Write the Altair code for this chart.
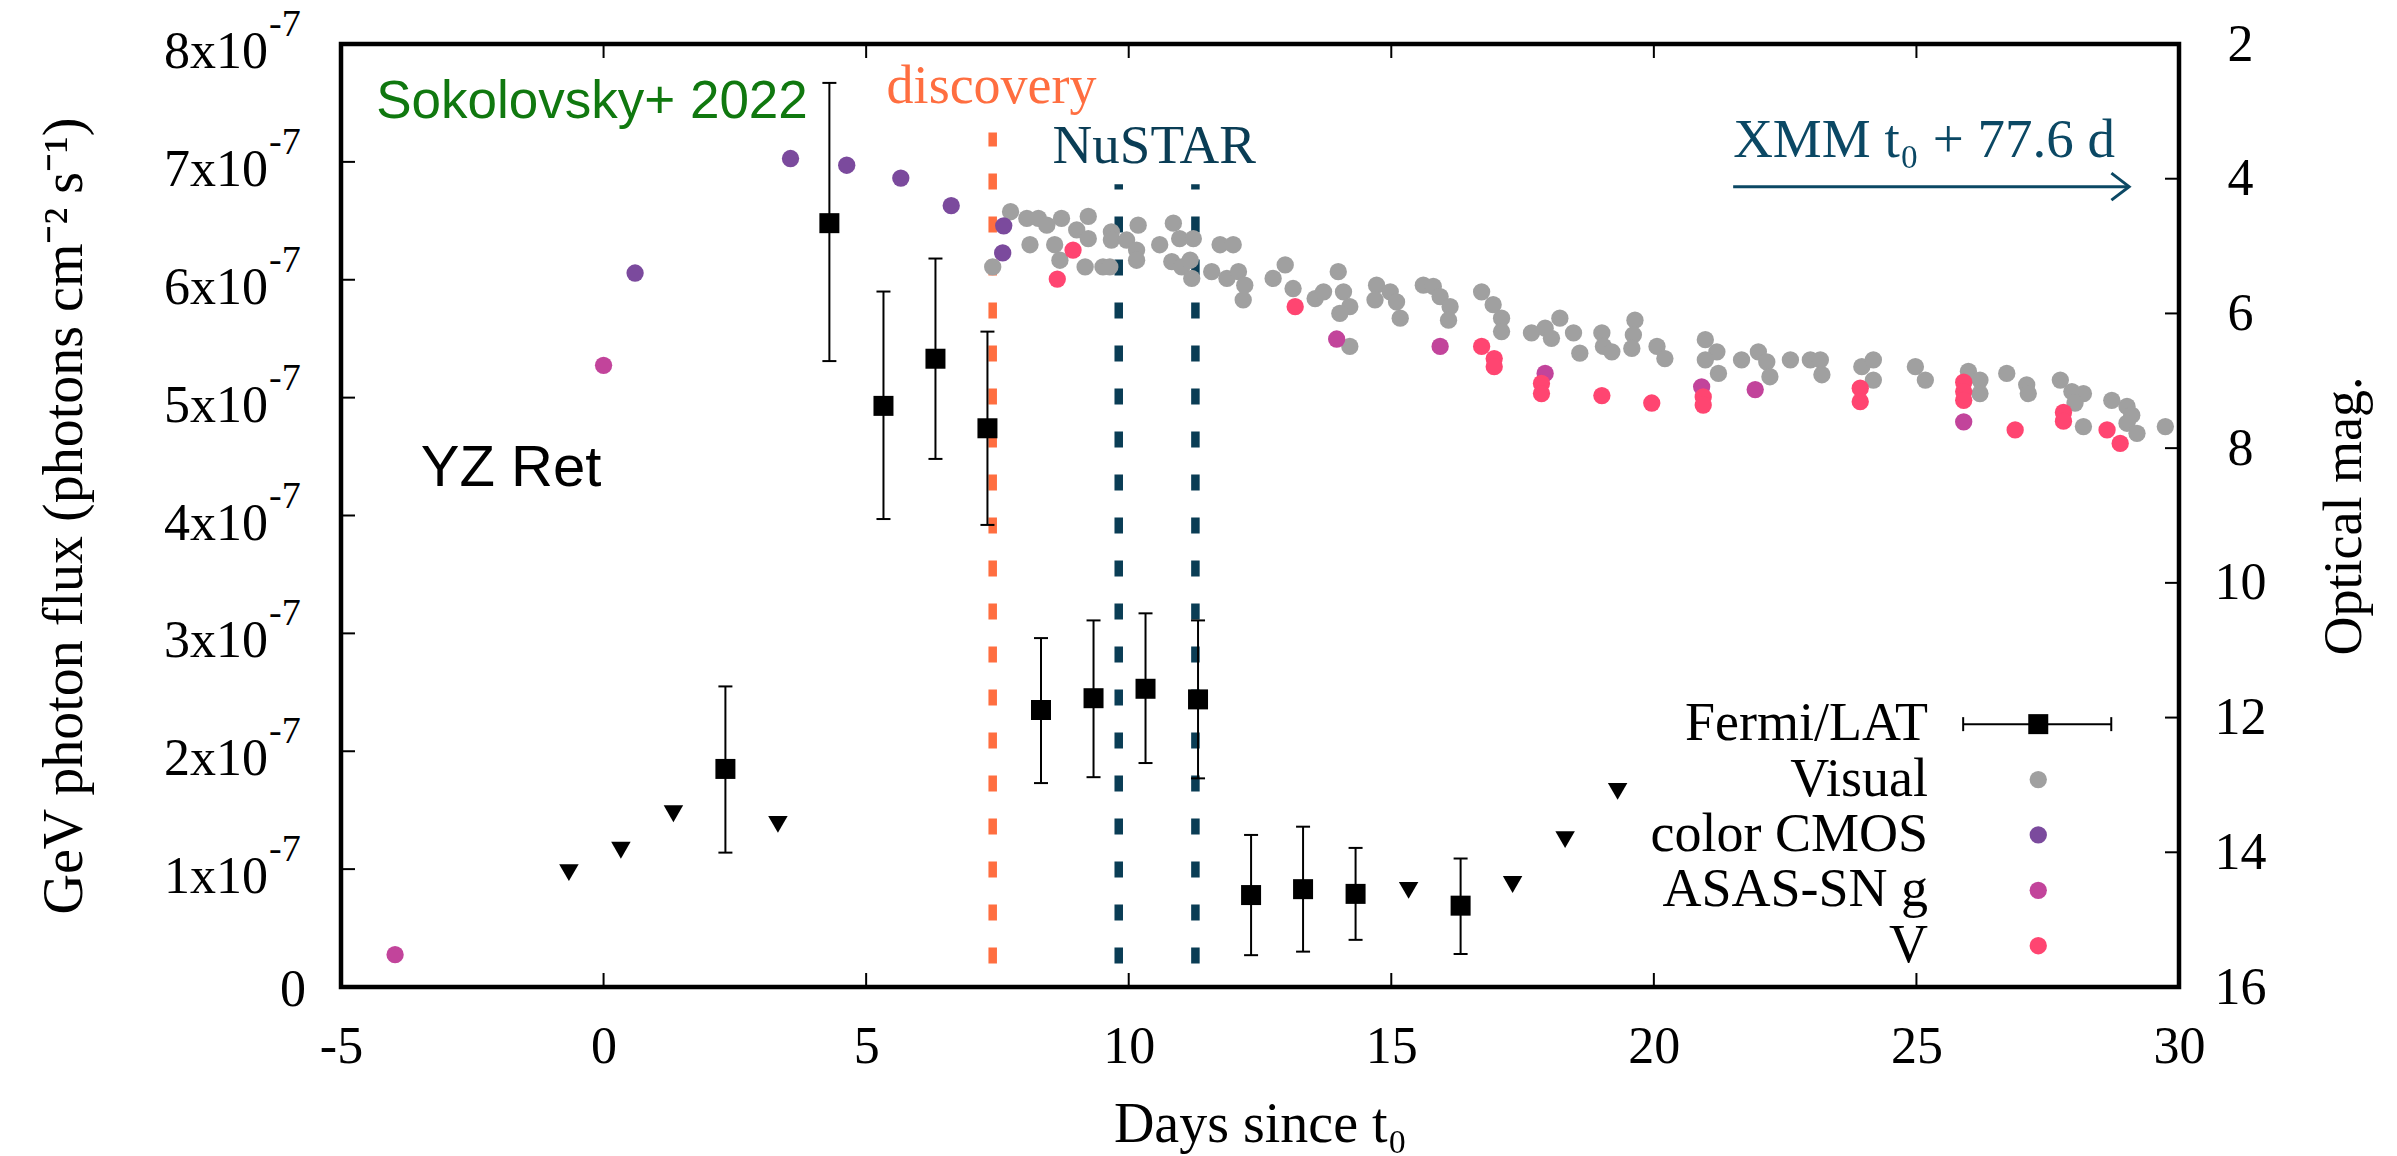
import altair as alt
import pandas as pd

# ---------------- data ----------------
# Fermi/LAT detections: day since t0, flux and 1-sigma range (photons cm^-2 s^-1)
fermi_day = [2.32, 4.30, 5.33, 6.32, 7.31, 8.33, 9.33, 10.32, 11.32, 12.33, 13.32, 14.32, 16.32]
fermi_flux = [1.85e-7, 6.48e-7, 4.93e-7, 5.33e-7, 4.74e-7, 2.35e-7, 2.45e-7, 2.53e-7, 2.44e-7,
              0.78e-7, 0.83e-7, 0.79e-7, 0.69e-7]
fermi_lo = [1.14e-7, 5.31e-7, 3.97e-7, 4.48e-7, 3.92e-7, 1.73e-7, 1.78e-7, 1.90e-7, 1.77e-7,
            0.27e-7, 0.30e-7, 0.40e-7, 0.28e-7]
fermi_hi = [2.55e-7, 7.67e-7, 5.90e-7, 6.18e-7, 5.56e-7, 2.96e-7, 3.11e-7, 3.17e-7, 3.11e-7,
            1.29e-7, 1.36e-7, 1.18e-7, 1.09e-7]
# Fermi/LAT upper limits
ul_day = [-0.66, 0.33, 1.33, 3.32, 15.33, 17.31, 18.31, 19.31]
ul_flux = [0.97e-7, 1.16e-7, 1.47e-7, 1.38e-7, 0.82e-7, 0.87e-7, 1.25e-7, 1.66e-7]

# Optical magnitudes
visual_day = [7.41, 7.75, 8.06, 8.28, 8.12, 8.44, 8.72, 8.59, 8.69, 9.01, 9.23, 9.23, 9.17, 9.51,
              9.64, 9.67, 9.67, 10.18, 9.96, 10.15, 10.15, 10.59, 10.85, 10.97, 11.23, 10.82,
              11.01, 11.17, 11.20, 11.74, 11.99, 11.58, 11.87, 12.09, 12.21, 12.18, 12.75, 12.98,
              13.13, 13.55, 13.71, 13.99, 14.09, 14.21, 14.02, 14.21, 14.72, 14.69, 14.98, 15.10,
              15.17, 15.61, 15.80, 15.93, 16.12, 16.09, 16.72, 16.94, 17.10, 17.10, 17.67, 17.93,
              18.21, 18.05, 18.47, 18.59, 19.01, 19.04, 19.20, 19.64, 19.61, 19.58, 20.06, 20.21,
              20.98, 21.20, 20.98, 21.23, 21.67, 21.99, 22.15, 22.21, 22.60, 22.98, 23.17, 23.20,
              23.96, 24.18, 24.18, 24.98, 25.17, 25.99, 26.21, 26.21, 26.72, 27.10, 27.13, 27.74,
              27.96, 28.18, 28.02, 28.18, 28.72, 29.01, 29.10, 29.01, 29.20, 29.74]
visual_mag = [5.31, 4.49, 4.59, 4.59, 4.98, 4.69, 4.59, 4.98, 5.21, 4.76, 4.56, 4.89, 5.31, 5.31,
              5.31, 4.79, 4.91, 4.69, 4.91, 5.06, 5.21, 4.98, 4.66, 4.89, 4.89, 5.23,
              5.31, 5.21, 5.48, 4.98, 4.98, 5.38, 5.48, 5.38, 5.58, 5.80, 5.48, 5.28,
              5.63, 5.78, 5.68, 5.38, 5.68, 5.90, 6.00, 6.49, 5.58, 5.80, 5.68, 5.83,
              6.07, 5.58, 5.60, 5.75, 5.90, 6.10, 5.68, 5.87, 6.07, 6.27, 6.29, 6.22,
              6.07, 6.37, 6.29, 6.59, 6.29, 6.49, 6.57, 6.10, 6.32, 6.52, 6.49, 6.67,
              6.39, 6.57, 6.69, 6.89, 6.69, 6.57, 6.72, 6.94, 6.69, 6.69, 6.69, 6.91,
              6.79, 6.69, 6.99, 6.79, 6.99, 6.86, 6.99, 7.19, 6.89, 7.06, 7.19, 6.99,
              7.16, 7.19, 7.33, 7.68, 7.29, 7.38, 7.51, 7.63, 7.78, 7.68]
cmos_day = [0.60, 3.56, 4.63, 5.66, 6.62, 7.62, 7.60]
cmos_mag = [5.40, 3.70, 3.80, 3.99, 4.40, 4.70, 5.10]
asas_day = [-3.97, 0.00, 13.96, 15.93, 17.93, 20.91, 21.93, 25.90]
asas_mag = [15.52, 6.77, 6.38, 6.49, 6.89, 7.09, 7.13, 7.61]
v_day = [8.64, 8.94, 13.17, 16.72, 16.96, 16.96, 17.86, 17.86, 19.01, 19.96, 20.94, 20.94,
         23.93, 23.93, 25.90, 25.90, 25.90, 26.88, 27.80, 27.80, 28.63, 28.88]
v_mag = [5.49, 5.06, 5.90, 6.49, 6.67, 6.79, 7.04, 7.19, 7.22, 7.33, 7.24, 7.36,
         7.11, 7.31, 7.02, 7.16, 7.29, 7.73, 7.47, 7.60, 7.73, 7.93]

# marked epochs (days since t0)
discovery_day = [7.41]
nustar_day = [9.81, 11.27]

# axes
x_ticks = [-5, 0, 5, 10, 15, 20, 25, 30]
x_tick_labels = ["-5", "0", "5", "10", "15", "20", "25", "30"]
flux_ticks = [0, 1e-7, 2e-7, 3e-7, 4e-7, 5e-7, 6e-7, 7e-7, 8e-7]
flux_mant = ["0", "1x10", "2x10", "3x10", "4x10", "5x10", "6x10", "7x10", "8x10"]
flux_exp = ["", "-7", "-7", "-7", "-7", "-7", "-7", "-7", "-7"]
mag_ticks = [2, 4, 6, 8, 10, 12, 14, 16]

legend_labels = ["Fermi/LAT", "Visual", "color CMOS", "ASAS-SN g", "V"]

# ---------------- styling / layout ----------------
W, H = 1838, 943
SERIF = "Liberation Serif"
SANS = "Liberation Sans"
C_VIS, C_CMOS, C_ASAS, C_V = "#a0a0a0", "#7b4a9d", "#c2449b", "#ff4571"
C_DISC, C_NU, C_XMM, C_GREEN = "#ff6e40", "#0a3d55", "#0b4864", "#10780f"
PT = 300

xs = alt.Scale(domain=[-5, 30], nice=False, zero=False)
fsc = alt.Scale(domain=[0, 8e-7], nice=False, zero=False)
msc = alt.Scale(domain=[2, 16], reverse=True, nice=False, zero=False)


def X(f):
    return alt.X(f, type="quantitative", scale=xs)


def YF(f):
    return alt.Y(f, type="quantitative", scale=fsc, axis=None)


def YM(f):
    return alt.Y(f, type="quantitative", scale=msc, axis=None)


TL = 14
xt = pd.DataFrame(dict(v=x_ticks, lab=x_tick_labels))
x_axis = alt.Axis(values=x_ticks, labelExpr="'' + datum.value", labelFont=SERIF, labelFontSize=52,
                  labelColor="black", labelPadding=75, labelBaseline="alphabetic", labelFlush=False,
                  labelOverlap=False, ticks=False, tickSize=0, domain=False, grid=False,
                  title="Days since t₀", titleFont=SERIF, titleFontSize=56, titleFontWeight="normal",
                  titleColor="black", titleBaseline="alphabetic", titleY=154)
# bottom inward ticks; this first layer also carries the shared x axis
xt_bot = alt.Chart(xt).mark_rule(color="black", strokeWidth=2).encode(
    x=alt.X("v", type="quantitative", scale=xs, axis=x_axis), y=alt.value(H), y2=alt.value(H - TL))
xt_top = alt.Chart(xt).mark_rule(color="black", strokeWidth=2).encode(x=X("v"), y=alt.value(0), y2=alt.value(TL))

fermi = pd.DataFrame(dict(day=fermi_day, flux=fermi_flux, lo=fermi_lo, hi=fermi_hi))
ul = pd.DataFrame(dict(day=ul_day, flux=ul_flux))

# vertical dashed lines (from near bottom upward)
vl_bottom = 0.2e-7
disc_df = pd.DataFrame(dict(day=discovery_day, y0=[vl_bottom], y1=[7.25e-7]))
nu_df = pd.DataFrame(dict(day=nustar_day, y0=[vl_bottom] * 2, y1=[6.81e-7] * 2))
dash = [16, 27]
v_disc = alt.Chart(disc_df).mark_rule(color=C_DISC, strokeWidth=8.5, strokeDash=dash, strokeCap="butt").encode(
    x=X("day"), y=YF("y0"), y2="y1")
v_nu = alt.Chart(nu_df).mark_rule(color=C_NU, strokeWidth=8.5, strokeDash=dash, strokeCap="butt").encode(
    x=X("day"), y=YF("y0"), y2="y1")

err = alt.Chart(fermi).mark_rule(color="black", strokeWidth=2).encode(x=X("day"), y=YF("lo"), y2="hi")
cap_lo = alt.Chart(fermi).mark_point(shape="stroke", size=196, color="black", strokeWidth=2, opacity=1).encode(
    x=X("day"), y=YF("lo"))
cap_hi = alt.Chart(fermi).mark_point(shape="stroke", size=196, color="black", strokeWidth=2, opacity=1).encode(
    x=X("day"), y=YF("hi"))
tri = alt.Chart(ul).mark_point(shape="triangle-down", filled=True, size=380, color="black", opacity=1).encode(
    x=X("day"), y=YF("flux"))

yl_axis = alt.Axis(orient="left", labels=False, ticks=False, tickSize=0, domain=False, grid=False,
                   title="GeV photon flux (photons cm⁻² s⁻¹)", titleFont=SERIF, titleFontSize=56,
                   titleFontWeight="normal", titleColor="black", titleAngle=270,
                   titleBaseline="alphabetic", titleX=-260, titleY=H / 2, titleAlign="center")
sq = alt.Chart(fermi).mark_square(size=400, color="black", opacity=1).encode(
    x=X("day"),
    y=alt.Y("flux", type="quantitative", scale=fsc, axis=yl_axis))


def note(text, x, y, color, font, size, align="left"):
    df = pd.DataFrame({"x": [x], "y": [y], "t": [text]})
    return alt.Chart(df).mark_text(font=font, fontSize=size, color=color, align=align,
                                   baseline="alphabetic").encode(x=X("x"), y=YF("y"), text="t:N")


notes = [
    note("Sokolovsky+ 2022", -4.33, 7.37e-7, C_GREEN, SANS, 53),
    note("YZ Ret", -3.48, 4.25e-7, "black", SANS, 58),
    note("discovery", 5.39, 7.50e-7, C_DISC, SERIF, 54),
    note("NuSTAR", 8.55, 6.99e-7, C_NU, SERIF, 55),
    note("XMM t₀ + 77.6 d", 21.51, 7.04e-7, C_XMM, SERIF, 55),
]
arrow_df = pd.DataFrame(dict(x0=[21.51], x1=[29.05], y=[6.79e-7]))
arrow_line = alt.Chart(arrow_df).mark_rule(color=C_XMM, strokeWidth=3).encode(x=X("x0"), x2="x1", y=YF("y"))
arrow_head = alt.Chart(arrow_df).mark_point(shape="M-1,-0.76L0,0L-1,0.76", size=1253, filled=False,
                                            color=C_XMM, strokeWidth=3, opacity=1).encode(
    x=X("x1"), y=YF("y"))

# legend (drawn inside the plot, in data coordinates)
leg_text_x, leg_sym_x, leg_bar = 25.22, 27.32, (25.89, 28.71)
leg_y0, leg_dy = 2.23e-7, 0.47e-7
leg = pd.DataFrame(dict(label=legend_labels,
                        y=[leg_y0 - i * leg_dy for i in range(len(legend_labels))],
                        tx=[leg_text_x] * len(legend_labels),
                        sx=[leg_sym_x] * len(legend_labels),
                        c=["black", C_VIS, C_CMOS, C_ASAS, C_V]))
leg_text = alt.Chart(leg).mark_text(font=SERIF, fontSize=54, color="black", align="right",
                                    baseline="middle").encode(x=X("tx"), y=YF("y"), text="label:N")
leg_dots = alt.Chart(leg).transform_filter("datum.label != 'Fermi/LAT'").mark_circle(
    size=PT, opacity=1).encode(x=X("sx"), y=YF("y"), color=alt.Color("c:N", scale=None))
leg_f = leg[leg.label == "Fermi/LAT"].assign(b0=leg_bar[0], b1=leg_bar[1])
leg_bar_rule = alt.Chart(leg_f).mark_rule(color="black", strokeWidth=2).encode(x=X("b0"), x2="b1", y=YF("y"))
leg_cap0 = alt.Chart(leg_f).mark_point(shape="stroke", angle=90, size=196, color="black", strokeWidth=2,
                                       opacity=1).encode(x=X("b0"), y=YF("y"))
leg_cap1 = alt.Chart(leg_f).mark_point(shape="stroke", angle=90, size=196, color="black", strokeWidth=2,
                                       opacity=1).encode(x=X("b1"), y=YF("y"))
leg_sq = alt.Chart(leg_f).mark_square(size=400, color="black", opacity=1).encode(x=X("sx"), y=YF("y"))

# left inward ticks and tick labels with superscript exponents
ft = pd.DataFrame(dict(v=flux_ticks, mant=flux_mant, exp=flux_exp))
yt_left = alt.Chart(ft).mark_rule(color="black", strokeWidth=2).encode(y=YF("v"), x=alt.value(0), x2=alt.value(TL))
lab_mant = alt.Chart(ft).transform_filter("datum.exp != ''").mark_text(
    font=SERIF, fontSize=52, color="black", align="right", baseline="alphabetic", dx=-73, dy=24).encode(
    x=alt.value(0), y=YF("v"), text="mant:N")
lab_zero = alt.Chart(ft).transform_filter("datum.exp == ''").mark_text(
    font=SERIF, fontSize=52, color="black", align="right", baseline="alphabetic", dx=-35, dy=19).encode(
    x=alt.value(0), y=YF("v"), text="mant:N")
lab_exp = alt.Chart(ft).transform_filter("datum.exp != ''").mark_text(
    font=SERIF, fontSize=38, color="black", align="left", baseline="alphabetic", dx=-72, dy=-8).encode(
    x=alt.value(0), y=YF("v"), text="exp:N")

# optical (right axis)
opt = pd.DataFrame(dict(
    day=visual_day + cmos_day + asas_day + v_day,
    mag=visual_mag + cmos_mag + asas_mag + v_mag,
    src=["Visual"] * len(visual_day) + ["color CMOS"] * len(cmos_day)
        + ["ASAS-SN g"] * len(asas_day) + ["V"] * len(v_day)))
yr_axis = alt.Axis(orient="right", values=mag_ticks, labelExpr="'' + datum.value", labelFont=SERIF,
                   labelFontSize=52, labelColor="black", labelAlign="center", labelBaseline="middle",
                   labelPadding=61, labelFlush=False, labelOverlap=False, ticks=False, tickSize=0,
                   domain=False, grid=False, title="Optical mag.", titleFont=SERIF, titleFontSize=54,
                   titleFontWeight="normal", titleColor="black", titleAngle=270,
                   titleBaseline="alphabetic", titleX=181, titleY=H / 2, titleAlign="center")
opt_pts = alt.Chart(opt).mark_circle(size=PT, opacity=1).encode(
    x=X("day"),
    y=alt.Y("mag", type="quantitative", scale=msc, axis=yr_axis),
    color=alt.Color("src:N", scale=alt.Scale(domain=["Visual", "color CMOS", "ASAS-SN g", "V"],
                                             range=[C_VIS, C_CMOS, C_ASAS, C_V]), legend=None))
mt = pd.DataFrame(dict(v=mag_ticks))
yt_right = alt.Chart(mt).mark_rule(color="black", strokeWidth=2).encode(
    y=YM("v"), x=alt.value(W), x2=alt.value(W - TL))

chart = alt.layer(
    xt_bot, xt_top, v_disc, v_nu, err, cap_lo, cap_hi, tri, sq, *notes, arrow_line, arrow_head,
    leg_text, leg_dots, leg_bar_rule, leg_cap0, leg_cap1, leg_sq,
    yt_left, lab_mant, lab_zero, lab_exp,
    opt_pts, yt_right,
).resolve_scale(y="independent").properties(
    width=W, height=H,
    padding={"left": 341, "top": 44, "right": 218, "bottom": 169},
    autosize=alt.AutoSizeParams(type="none"),
    background="white",
).configure_view(stroke="black", strokeWidth=4.5)

chart.save("out.html", embed_options={"renderer": "svg", "actions": False})
